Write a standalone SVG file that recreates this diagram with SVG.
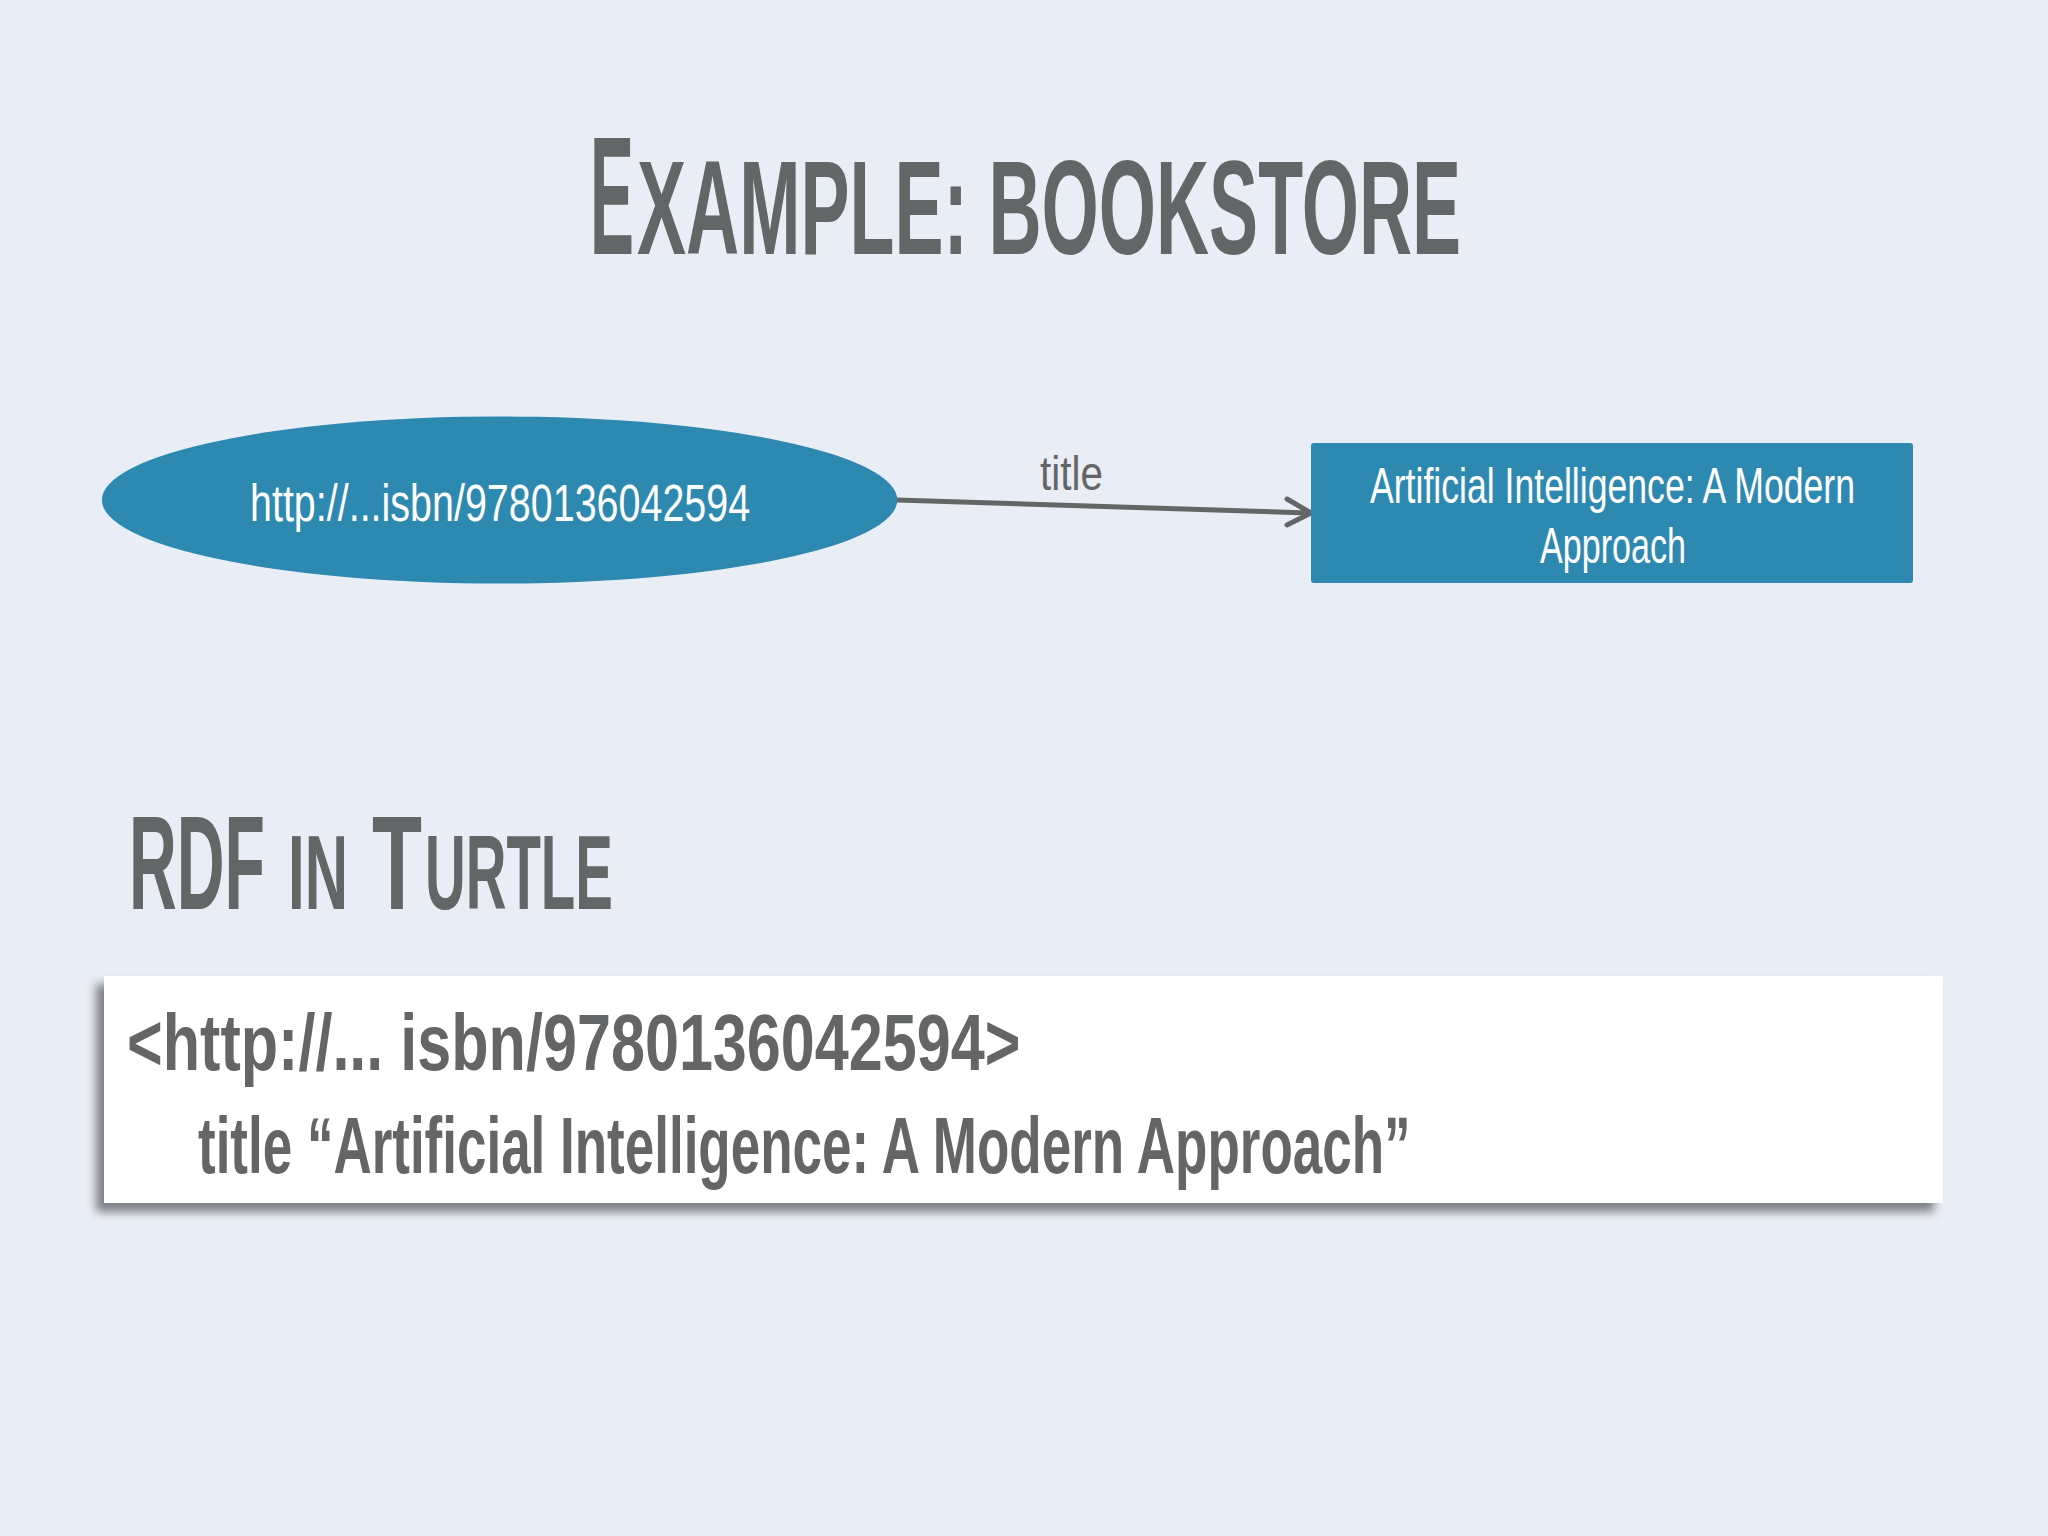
<svg xmlns="http://www.w3.org/2000/svg" width="2048" height="1536" viewBox="0 0 2048 1536">
<defs>
<style>
.hd{font-family:"Liberation Sans",Arial,sans-serif;font-weight:bold;fill:#646566}
.lbl{font-family:"Liberation Sans",Arial,sans-serif;fill:#ffffff}
.edge{font-family:"Liberation Sans",Arial,sans-serif;fill:#646566}
.code{font-family:"Liberation Sans",Arial,sans-serif;font-weight:bold;fill:#646566}
.node{fill:#2e89b1}
.conn{fill:none;stroke:#646566;stroke-width:5;stroke-linecap:round;stroke-linejoin:round}
</style>
<filter id="sh" x="-5%" y="-20%" width="110%" height="150%">
<feGaussianBlur stdDeviation="5"/>
</filter>
</defs>
<rect width="2048" height="1536" fill="#e9edf5"/>
<g id="title">
<text class="hd" transform="translate(590,254) scale(0.393,1)" font-size="168" textLength="112" lengthAdjust="spacingAndGlyphs">E</text>
<text class="hd" transform="translate(637,254) scale(0.548,1)" font-size="134" textLength="1504" lengthAdjust="spacingAndGlyphs">XAMPLE: BOOKSTORE</text>
</g>
<g id="connectors">
<line class="conn" x1="897" y1="500" x2="1309" y2="513"/>
<polyline class="conn" points="1287,499 1311,513 1287,525"/>
<text class="edge" transform="translate(1040,490) scale(0.843,1)" font-size="48" textLength="74.7" lengthAdjust="spacingAndGlyphs">title</text>
</g>
<g id="node-subject">
<ellipse class="node" cx="499.6" cy="500" rx="397.7" ry="83.6"/>
<text class="lbl" transform="translate(250,521) scale(0.759,1)" font-size="52" textLength="659" lengthAdjust="spacingAndGlyphs">http://...isbn/9780136042594</text>
</g>
<g id="node-object">
<rect class="node" x="1311" y="443" width="602" height="140" rx="3"/>
<text class="lbl" transform="translate(1370,503) scale(0.707,1)" font-size="50" textLength="686" lengthAdjust="spacingAndGlyphs">Artificial Intelligence: A Modern</text>
<text class="lbl" transform="translate(1540,563) scale(0.682,1)" font-size="50" textLength="214" lengthAdjust="spacingAndGlyphs">Approach</text>
</g>
<g id="subtitle">
<text class="hd" transform="translate(129,909) scale(0.498,1)" font-size="133" textLength="273" lengthAdjust="spacingAndGlyphs">RDF</text>
<text class="hd" transform="translate(288,909) scale(0.566,1)" font-size="106" textLength="106" lengthAdjust="spacingAndGlyphs">IN</text>
<text class="hd" transform="translate(372,909) scale(0.615,1)" font-size="133" textLength="81.3" lengthAdjust="spacingAndGlyphs">T</text>
<text class="hd" transform="translate(425,909) scale(0.532,1)" font-size="106" textLength="353" lengthAdjust="spacingAndGlyphs">URTLE</text>
</g>
<g id="turtle-box">
<rect x="96" y="984" width="1838" height="228" fill="#5a5d63" opacity="0.75" filter="url(#sh)"/>
<rect x="104" y="976" width="1839" height="227" fill="#ffffff"/>
<text class="code" transform="translate(127,1070) scale(0.764,1)" font-size="80" textLength="1169.5" lengthAdjust="spacingAndGlyphs">&lt;http://... isbn/9780136042594&gt;</text>
<text class="code" transform="translate(198,1173) scale(0.659,1)" font-size="80" textLength="1840" lengthAdjust="spacingAndGlyphs">title “Artificial Intelligence: A Modern Approach”</text>
</g>
</svg>
